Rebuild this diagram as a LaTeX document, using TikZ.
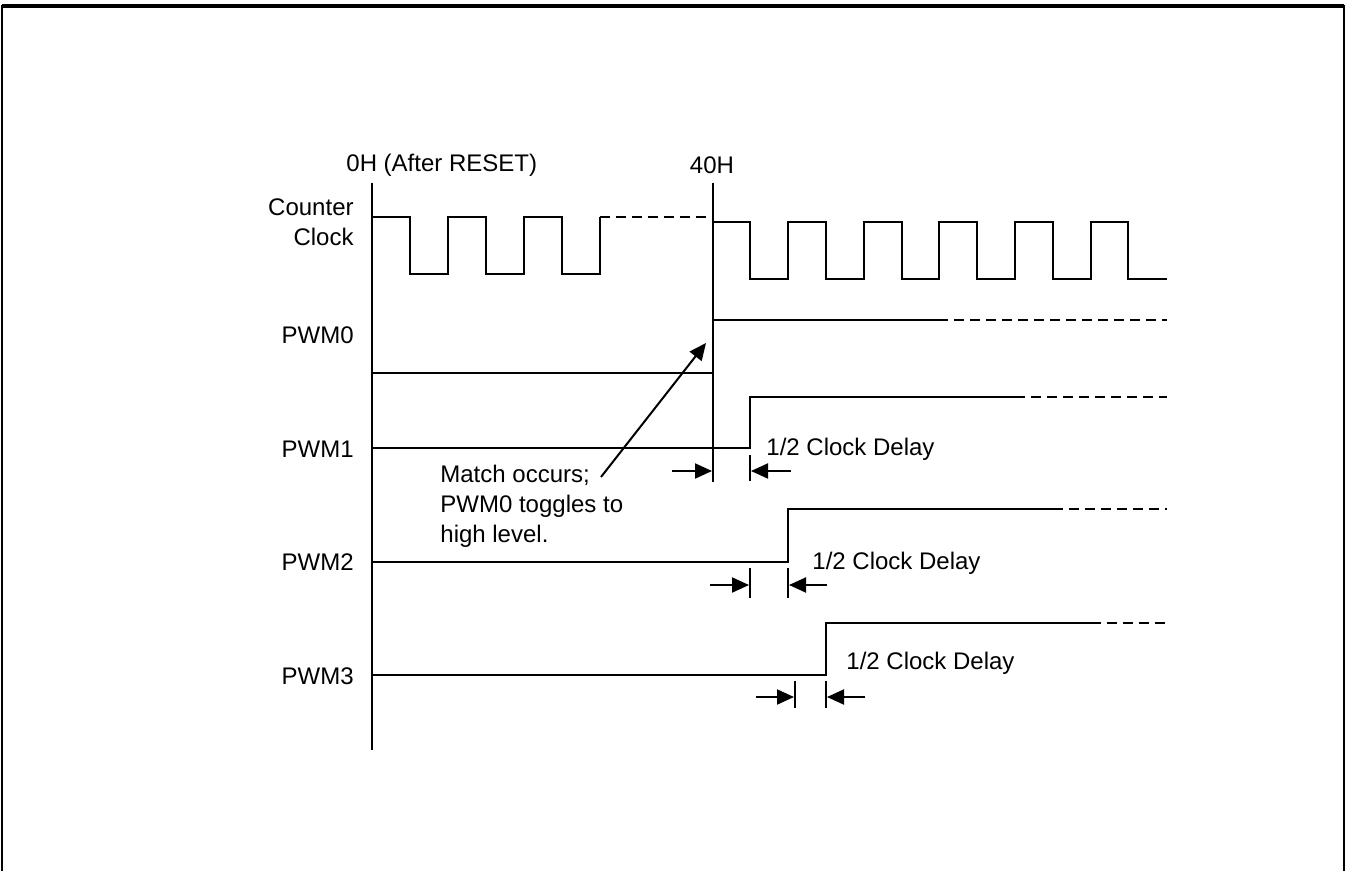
\documentclass[tikz,border=0pt]{standalone}
\usepackage{fontspec}
\setmainfont{Liberation Sans}
\usetikzlibrary{arrows.meta}
\begin{document}
\begin{tikzpicture}[x=0.5pt,y=-0.5pt,
  sig/.style={line width=1pt,line join=miter},
  dsh/.style={line width=1pt,dash pattern=on 5pt off 3pt},
  lbl/.style={inner sep=0pt,font=\fontsize{12pt}{15pt}\selectfont},
  dl/.style={line width=1pt,-{Triangle[length=8.5pt,width=7.5pt]}}]
\useasboundingbox (0,0) rectangle (1347,871);
\fill[white] (0,0) rectangle (1347,871);
% frame
\draw[line width=1.6pt] (2,6) -- (1344,6);
\draw[line width=1.1pt] (2,5) -- (2,871);
\draw[line width=1.1pt] (1344,5) -- (1344,871);
% headers
\node[lbl,anchor=west] (h0) at (346,165) {0H (After RESET)};
\node[lbl] (h40) at (712,165) {40H};
% time markers
\draw[sig] (372,183) -- (372,750);
\draw[sig] (713,183) -- (713,482);
% row labels
\node[lbl,anchor=east,align=right] (lcc) at (354,222) {Counter\\Clock};
\node[lbl,anchor=east] (l0) at (354,335) {PWM0};
\node[lbl,anchor=east] (l1) at (354,449) {PWM1};
\node[lbl,anchor=east] (l2) at (354,562) {PWM2};
\node[lbl,anchor=east] (l3) at (354,676) {PWM3};
% counter clock
\draw[sig] (372,217) -- (410,217) -- (410,274) -- (448,274) -- (448,217) -- (486,217) -- (486,274)
  -- (524,274) -- (524,217) -- (562,217) -- (562,274) -- (600,274) -- (600,217);
\draw[dsh] (600,217) -- (713,217);
\draw[sig] (713,222) -- (750,222) -- (750,279) -- (788,279) -- (788,222) -- (826,222) -- (826,279)
  -- (864,279) -- (864,222) -- (902,222) -- (902,279) -- (939,279) -- (939,222) -- (977,222)
  -- (977,279) -- (1015,279) -- (1015,222) -- (1053,222) -- (1053,279) -- (1091,279) -- (1091,222)
  -- (1128,222) -- (1128,279) -- (1167,279);
% PWM0
\draw[sig] (372,373) -- (713,373);
\draw[sig] (713,320) -- (938,320);
\draw[dsh] (938,320) -- (1167,320);
% PWM1
\draw[sig] (372,448) -- (750,448) -- (750,397) -- (1015,397);
\draw[dsh] (1015,397) -- (1167,397);
\draw[sig] (750,455) -- (750,481);
\draw[dl] (672,471) -- (712,471);
\draw[dl] (791,471) -- (751,471);
\node[lbl,anchor=west] (d1) at (766,449) {1/2 Clock Delay};
% PWM2
\draw[sig] (372,562) -- (788,562) -- (788,509) -- (1053,509);
\draw[dsh] (1053,509) -- (1167,509);
\draw[sig] (750,568) -- (750,598);
\draw[sig] (788,568) -- (788,598);
\draw[dl] (710,585) -- (749,585);
\draw[dl] (827,585) -- (789,585);
\node[lbl,anchor=west] (d2) at (812,563) {1/2 Clock Delay};
% PWM3
\draw[sig] (372,675) -- (826,675) -- (826,623) -- (1091,623);
\draw[dsh] (1091,623) -- (1167,623);
\draw[sig] (795,681) -- (795,708);
\draw[sig] (826,681) -- (826,708);
\draw[dl] (756,697) -- (794,697);
\draw[dl] (865,697) -- (827,697);
\node[lbl,anchor=west] (d3) at (846,663) {1/2 Clock Delay};
% annotation
\node[lbl,anchor=north west,align=left] (note) at (440,465) {Match occurs;\\PWM0 toggles to\\high level.};
\coordinate (tail) at (601,477);
\coordinate (tip) at (706,343);
\draw[dl] (tail) -- (tip);
\end{tikzpicture}
\end{document}
